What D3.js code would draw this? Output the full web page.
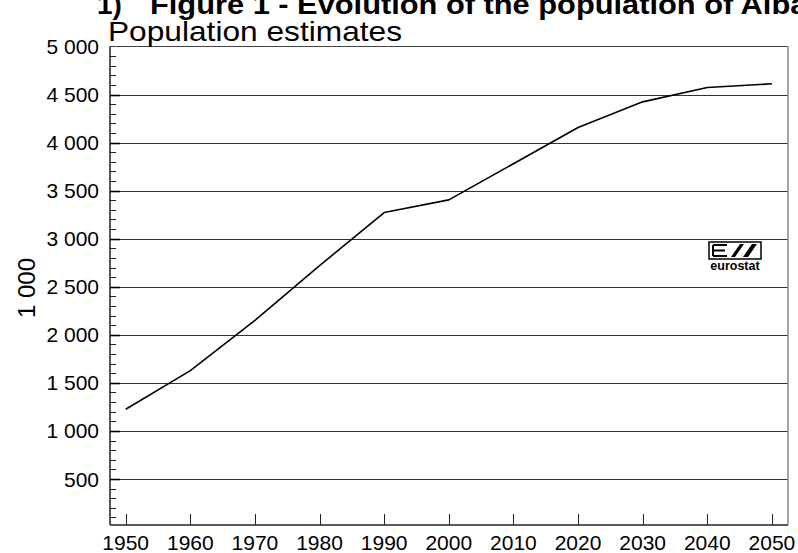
<!DOCTYPE html>
<html>
<head>
<meta charset="utf-8">
<script src="https://cdn.jsdelivr.net/npm/d3@7"></script>
<style>
  html, body { margin: 0; padding: 0; background: #fff; }
  svg { display: block; }
  text { font-family: "Liberation Sans", Arial, sans-serif; fill: #000; }
</style>
</head>
<body>
<svg id="chart" width="798" height="553"></svg>
<script>
// ---- data ----
const years = [1950, 1960, 1970, 1980, 1990, 2000, 2010, 2020, 2030, 2040, 2050];
const population = [1225, 1627, 2150, 2720, 3272, 3404, 3780, 4157, 4424, 4574, 4612];
const xTickLabels = ["1950","1960","1970","1980","1990","2000","2010","2020","2030","2040","2050"];
const yTickValues = [500, 1000, 1500, 2000, 2500, 3000, 3500, 4000, 4500, 5000];
const titleLine1 = "Figure 1 - Evolution of the population of Albania";
const titleNumber = "1)";
const subtitle = "Population estimates";
const yAxisTitle = "1 000";

const svg = d3.select("#chart");
const frame = { left: 110, right: 788, top: 46.5, bottom: 525 };

const x = d3.scaleLinear().domain([1950, 2050]).range([125.7, 771.9]);
const y = d3.scaleLinear().domain([0, 5000]).range([527, 46.5]);

const fmt = v => d3.format(",")(v).replace(/,/g, " ");

// gridlines
svg.append("g").selectAll("line")
  .data(yTickValues.filter(v => v < 5000))
  .join("line")
  .attr("x1", frame.left).attr("x2", frame.right)
  .attr("y1", d => Math.round(y(d)) + 0.5).attr("y2", d => Math.round(y(d)) + 0.5)
  .attr("stroke", "#333").attr("stroke-width", 1);

// frame
svg.append("line").attr("x1", frame.left).attr("x2", frame.right)
  .attr("y1", frame.top).attr("y2", frame.top).attr("stroke", "#444").attr("stroke-width", 1.2);
svg.append("line").attr("x1", frame.right).attr("x2", frame.right)
  .attr("y1", frame.top).attr("y2", frame.bottom).attr("stroke", "#888").attr("stroke-width", 1.5);
svg.append("line").attr("x1", frame.left).attr("x2", frame.left)
  .attr("y1", frame.top).attr("y2", frame.bottom).attr("stroke", "#222").attr("stroke-width", 1.5);
svg.append("line").attr("x1", frame.left).attr("x2", frame.right)
  .attr("y1", frame.bottom).attr("y2", frame.bottom).attr("stroke", "#222").attr("stroke-width", 1.5);

// y minor ticks
const minor = d3.range(100, 5000, 100).filter(v => v % 500 !== 0);
svg.append("g").selectAll("line").data(minor).join("line")
  .attr("x1", frame.left).attr("x2", frame.left + 6)
  .attr("y1", d => Math.round(y(d)) + 0.5).attr("y2", d => Math.round(y(d)) + 0.5)
  .attr("stroke", "#222").attr("stroke-width", 1);
// y major ticks
svg.append("g").selectAll("line").data(yTickValues.filter(v => v < 5000)).join("line")
  .attr("x1", frame.left).attr("x2", frame.left + 10)
  .attr("y1", d => Math.round(y(d)) + 0.5).attr("y2", d => Math.round(y(d)) + 0.5)
  .attr("stroke", "#000").attr("stroke-width", 1.6);

// y labels
svg.append("g").selectAll("text").data(yTickValues).join("text")
  .attr("x", 99).attr("y", d => y(d))
  .attr("text-anchor", "end").attr("dy", "0.36em")
  .attr("font-size", 21)
  .text(d => fmt(d));

// x ticks
svg.append("g").selectAll("line").data(years).join("line")
  .attr("x1", d => Math.round(x(d)) + 0.5).attr("x2", d => Math.round(x(d)) + 0.5)
  .attr("y1", frame.bottom).attr("y2", frame.bottom - 11)
  .attr("stroke", "#222").attr("stroke-width", 1);

// x labels
svg.append("g").selectAll("text").data(years).join("text")
  .attr("x", d => x(d)).attr("y", 550)
  .attr("text-anchor", "middle")
  .attr("font-size", 21)
  .text((d, i) => xTickLabels[i]);

// line
const line = d3.line().x((d, i) => x(years[i])).y(d => y(d));
svg.append("path").datum(population)
  .attr("d", line)
  .attr("fill", "none").attr("stroke", "#000").attr("stroke-width", 1.6)
  .attr("stroke-linejoin", "round");

// y axis title
svg.append("text")
  .attr("transform", "translate(35,288) rotate(-90)")
  .attr("text-anchor", "middle")
  .attr("font-size", 24)
  .text(yAxisTitle);

// titles
svg.append("text").attr("x", 97).attr("y", 14)
  .attr("font-weight", "bold").attr("font-size", 28).text(titleNumber);
svg.append("text").attr("transform", "translate(150,14) scale(1.1,1)")
  .attr("font-weight", "bold").attr("font-size", 28).text(titleLine1);
svg.append("text").attr("x", 108).attr("y", 41)
  .attr("font-size", 28).attr("textLength", 294).attr("lengthAdjust", "spacingAndGlyphs")
  .text(subtitle);

// eurostat logo
const logo = svg.append("g").attr("transform", "translate(709,242)");
logo.append("rect").attr("x", 0).attr("y", 0).attr("width", 52).attr("height", 17)
  .attr("fill", "#fff").attr("stroke", "#000").attr("stroke-width", 1.5);
// E
logo.append("path").attr("d", "M4,3 H18 M4,8.5 H16 M4,14 H18 M4,3 V14")
  .attr("stroke", "#000").attr("stroke-width", 2).attr("fill", "none");
// slashes
logo.append("path").attr("d", "M22,15 L31,2 L35,2 L26,15 Z M34,15 L43,2 L48,2 L39,15 Z")
  .attr("fill", "#000");
logo.append("text").attr("x", 26).attr("y", 27.5).attr("text-anchor", "middle")
  .attr("font-size", 12.5).attr("font-weight", "bold").text("eurostat");
</script>
</body>
</html>
